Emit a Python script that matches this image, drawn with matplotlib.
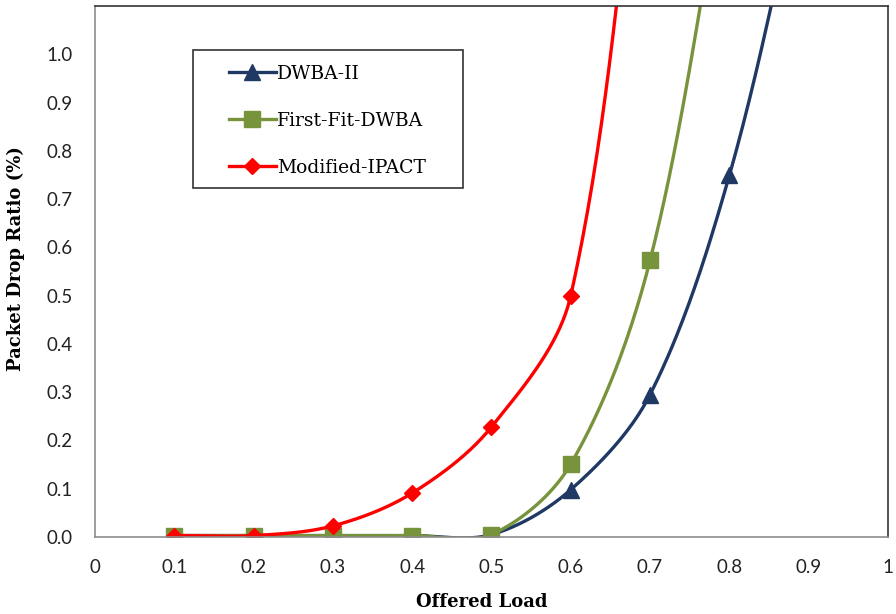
import numpy as np
import matplotlib
matplotlib.use('Agg')
import matplotlib.pyplot as plt
from matplotlib.patches import Rectangle

# offered load values and packet drop ratios
load_dwba2 = [0.1, 0.2, 0.3, 0.4, 0.5, 0.6, 0.7, 0.8, 0.9]
drop_dwba2 = [0.003, 0.003, 0.003, 0.003, 0.005, 0.098, 0.295, 0.749, 1.45]

load_ffd = [0.1, 0.2, 0.3, 0.4, 0.5, 0.6, 0.7, 0.8]
drop_ffd = [0.003, 0.003, 0.003, 0.003, 0.005, 0.151, 0.573, 1.45]

load_ipact = [0.1, 0.2, 0.3, 0.4, 0.5, 0.6, 0.7]
drop_ipact = [0.003, 0.003, 0.023, 0.091, 0.228, 0.500, 1.7]

xticks = [0, 0.1, 0.2, 0.3, 0.4, 0.5, 0.6, 0.7, 0.8, 0.9, 1]
xticklabels = ['0', '0.1', '0.2', '0.3', '0.4', '0.5', '0.6', '0.7', '0.8', '0.9', '1']
yticks = [0.0, 0.1, 0.2, 0.3, 0.4, 0.5, 0.6, 0.7, 0.8, 0.9, 1.0]

N = 40
SX, SY = 793.0, 482.0  # rough pixels per data unit, so the smoothing is done in screen space


def smooth(xs, ys, n=N):
    # bezier smoothing similar to excel's "smoothed line"
    P = np.column_stack([np.asarray(xs) * SX, np.asarray(ys) * SY])
    m = len(P)
    t = np.linspace(0, 1, n, endpoint=False)[:, None]
    out = []
    for i in range(m - 1):
        a, b = P[i], P[i + 1]
        L = np.linalg.norm(b - a)
        if i == 0:
            c1 = a + (b - a) / 3
        else:
            d = P[i + 1] - P[i - 1]
            c1 = a + d * L / (L + np.linalg.norm(a - P[i - 1])) / 3
        if i + 1 == m - 1:
            c2 = b - (b - a) / 3
        else:
            d = P[i + 2] - P[i]
            c2 = b - d * L / (L + np.linalg.norm(P[i + 2] - b)) / 3
        seg = ((1 - t) ** 3 * a + 3 * (1 - t) ** 2 * t * c1
               + 3 * (1 - t) * t ** 2 * c2 + t ** 3 * b)
        out.append(seg)
    out.append(P[-1:])
    c = np.vstack(out)
    return c[:, 0] / SX, c[:, 1] / SY, list(range(0, n * (m - 1) + 1, n))


fig = plt.figure(figsize=(8.96, 6.14), dpi=100)
ax = fig.add_axes([0.106, 0.1254, 0.885, 0.8648])

series = [
    (load_dwba2, drop_dwba2, '#1F3864', '^', 11, 'DWBA-II'),
    (load_ffd, drop_ffd, '#77933C', 's', 11.5, 'First-Fit-DWBA'),
    (load_ipact, drop_ipact, '#FF0000', 'D', 8.5, 'Modified-IPACT'),
]
for xs, ys, col, mk, ms, name in series:
    sx, sy, idx = smooth(xs, ys)
    ax.plot(sx, sy, color=col, lw=2.4, marker=mk, markersize=ms,
            markevery=idx, markerfacecolor=col, markeredgecolor=col,
            label=name)

ax.set_xlim(0, 1)
ax.set_ylim(0, 1.1)
ax.set_xticks(xticks)
ax.set_xticklabels(xticklabels)
ax.set_yticks(yticks)
ax.set_yticklabels(['%.1f' % v for v in yticks])
ax.tick_params(length=0, labelsize=13.5, pad=16, colors='#222222')
for lab in ax.get_xticklabels() + ax.get_yticklabels():
    lab.set_family('Lato')

for s in ['left', 'bottom']:
    ax.spines[s].set_color('#8c8c8c')
    ax.spines[s].set_linewidth(1.2)
for s in ['top', 'right']:
    ax.spines[s].set_color('#333333')
    ax.spines[s].set_linewidth(1.2)

ax.set_xlabel('Offered Load', fontsize=13, fontweight='bold',
              family='DejaVu Serif', va='top')
ax.xaxis.set_label_coords(0.488, -0.105)
ax.set_ylabel('Packet Drop Ratio (%)', fontsize=13, fontweight='bold',
              family='DejaVu Serif')
ax.yaxis.set_label_coords(-0.088, 0.525)

# legend frame drawn by hand so the padding matches
ax.add_patch(Rectangle((0.1236, 0.657), 0.3404, 0.26, transform=ax.transAxes,
                       facecolor='white', edgecolor='#333333', lw=1.2, zorder=4))
leg = ax.legend(loc='upper left', bbox_to_anchor=(0.169, 0.889),
                prop={'family': 'DejaVu Serif', 'size': 13.5},
                frameon=False, handlelength=2.5, handletextpad=0.05,
                labelspacing=1.54, borderpad=0, borderaxespad=0)
leg.set_zorder(5)

fig.savefig('out.png', dpi=100)
